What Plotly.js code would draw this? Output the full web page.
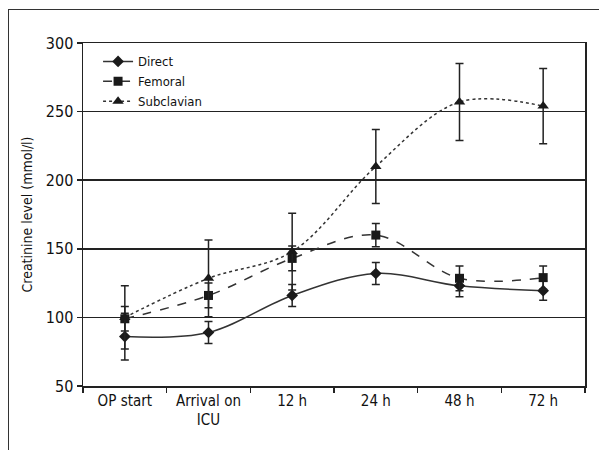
<!DOCTYPE html>
<html>
<head>
<meta charset="utf-8">
<script src="https://cdn.plot.ly/plotly-3.0.1.min.js"></script>
<style>
  html, body { margin: 0; padding: 0; background: #fff; }
  #wrap { position: relative; width: 599px; height: 450px; }
  #chart { width: 599px; height: 450px; }
  #frame { position: absolute; left: 8px; top: 9px; width: 591px; height: 441px;
           border-left: 1.5px solid #333; border-top: 1.5px solid #333; pointer-events: none; }
</style>
</head>
<body>
<div id="wrap">
  <div id="chart"></div>
  <div id="frame"></div>
</div>
<script>
const categories = ["OP start", "Arrival on<br>ICU", "12 h", "24 h", "48 h", "72 h"];

const directMean = [86, 89, 116, 132, 123, 119.5];
const directSD   = [17, 8, 8, 8, 8, 7];

const femoralMean = [99, 116, 143, 160, 128.5, 129];
const femoralSD   = [9, 9, 9, 8.5, 9, 8.5];

const subclavianMean = [100, 128.5, 148, 210, 257, 254];
const subclavianSD   = [23, 28, 28, 27, 28, 27.5];

const yTicks = [50, 100, 150, 200, 250, 300];

const FONT = '"DejaVu Sans Condensed", "Liberation Sans Narrow", sans-serif';
const INK = '#222';

function series(name, mean, sd, dash, symbol, size) {
  return {
    type: 'scatter',
    mode: 'lines+markers',
    name: name,
    x: categories,
    y: mean,
    line: { color: '#333', width: 1.5, dash: dash, shape: 'spline' },
    marker: { color: '#1a1a1a', symbol: symbol, size: size },
    error_y: { type: 'data', array: sd, visible: true, color: INK, thickness: 1.5, width: 4 }
  };
}

const data = [
  series('Direct', directMean, directSD, 'solid', 'diamond', 9),
  series('Femoral', femoralMean, femoralSD, 'dash', 'square', 9),
  series('Subclavian', subclavianMean, subclavianSD, 'dot', 'triangle-up', 10)
];

const layout = {
  width: 599, height: 450,
  margin: { l: 83, r: 14, t: 43, b: 64 },
  paper_bgcolor: '#fff', plot_bgcolor: '#fff',
  font: { family: FONT, color: INK, size: 15 },
  showlegend: true,
  legend: {
    x: 0.03, y: 0.99, xanchor: 'left', yanchor: 'top',
    bgcolor: 'rgba(0,0,0,0)', font: { family: FONT, size: 13, color: '#111' },
    tracegroupgap: 0, itemwidth: 30
  },
  xaxis: {
    type: 'category',
    range: [-0.5, 5.5],
    tickson: 'boundaries',
    tickangle: 0,
    ticks: 'outside', ticklen: 5, tickwidth: 1.5, tickcolor: INK,
    showline: true, linecolor: INK, linewidth: 1.5, mirror: true,
    showgrid: false, zeroline: false,
    tickfont: { family: FONT, size: 15, color: '#111' }
  },
  yaxis: {
    range: [50, 300],
    tickvals: yTicks,
    ticktext: yTicks.map(String),
    ticks: 'outside', ticklen: 5, tickwidth: 1.5, tickcolor: INK,
    showline: true, linecolor: INK, linewidth: 1.5, mirror: true,
    showgrid: true, gridcolor: INK, gridwidth: 1.5, zeroline: false,
    tickfont: { family: FONT, size: 16, color: '#111' },
    title: { text: 'Creatinine level (mmol/l)', standoff: 10, font: { family: FONT, size: 14, color: '#111' } }
  }
};

Plotly.newPlot('chart', data, layout, { displayModeBar: false, staticPlot: true });
</script>
</body>
</html>
